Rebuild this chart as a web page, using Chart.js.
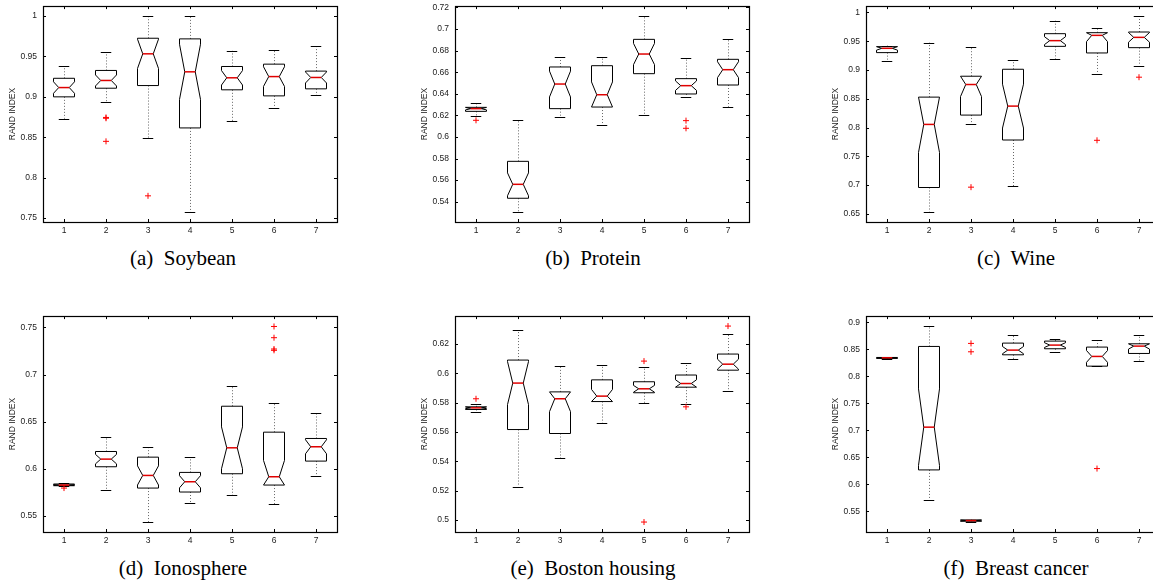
<!DOCTYPE html>
<html>
<head>
<meta charset="utf-8">
<script src="https://cdn.jsdelivr.net/npm/chart.js@4.4.1/dist/chart.umd.min.js"></script>
<style>
  html, body { margin: 0; padding: 0; background: #fff; }
  body { width: 1153px; height: 582px; position: relative; overflow: hidden; }
  canvas { position: absolute; }
  .cap {
    position: absolute; width: 300px; margin-left: -150px; text-align: center;
    font-family: "Liberation Serif", "DejaVu Serif", serif; font-size: 21px;
    line-height: 20px; white-space: pre; color: #000;
  }
</style>
</head>
<body>
<canvas id="c1" width="343" height="250"></canvas>
<canvas id="c2" width="343" height="250"></canvas>
<canvas id="c3" width="343" height="250"></canvas>
<canvas id="c4" width="343" height="250"></canvas>
<canvas id="c5" width="343" height="250"></canvas>
<canvas id="c6" width="343" height="250"></canvas>

<div class="cap" style="left:183px;top:248px">(a)  Soybean</div>
<div class="cap" style="left:593px;top:248px">(b)  Protein</div>
<div class="cap" style="left:1016px;top:248px">(c)  Wine</div>
<div class="cap" style="left:183px;top:558px">(d)  Ionosphere</div>
<div class="cap" style="left:593px;top:558px">(e)  Boston housing</div>
<div class="cap" style="left:1016px;top:558px">(f)  Breast cancer</div>

<script>
// methods on the x axis
const methods = [1, 2, 3, 4, 5, 6, 7];

// each box: [lower whisker, q1, median, q3, upper whisker]
const soybean = [
  [0.873, 0.900, 0.9115, 0.923, 0.9376],
  [0.8934, 0.9107, 0.9203, 0.9327, 0.955],
  [0.8496, 0.914, 0.9533, 0.9726, 1.0],
  [0.7574, 0.8615, 0.931, 0.9718, 1.0],
  [0.8703, 0.9087, 0.9236, 0.9376, 0.957],
  [0.8868, 0.9012, 0.9251, 0.9405, 0.9578],
  [0.902, 0.9099, 0.924, 0.9319, 0.9624]
];
const soybeanOut = [[2, 0.8745], [2, 0.8735], [2, 0.8449], [3, 0.7774]];

const protein = [
  [0.6194, 0.6237, 0.6262, 0.6274, 0.6317],
  [0.5302, 0.5432, 0.5561, 0.5774, 0.616],
  [0.6185, 0.6262, 0.649, 0.6648, 0.6737],
  [0.6108, 0.6277, 0.6391, 0.666, 0.6737],
  [0.6206, 0.6586, 0.6768, 0.6904, 0.712],
  [0.6373, 0.6398, 0.6475, 0.654, 0.6731],
  [0.628, 0.6481, 0.6623, 0.6719, 0.691]
];
const proteinOut = [[1, 0.6154], [6, 0.6151], [6, 0.608]];

const wine = [
  [0.9158, 0.9302, 0.9377, 0.9406, 0.9423],
  [0.6538, 0.6959, 0.8055, 0.8529, 0.9475],
  [0.8067, 0.8217, 0.8748, 0.8892, 0.94],
  [0.6982, 0.7784, 0.8373, 0.9013, 0.9169],
  [0.9192, 0.9411, 0.951, 0.9631, 0.9856],
  [0.8938, 0.9296, 0.9602, 0.9648, 0.9735],
  [0.9077, 0.9388, 0.9567, 0.966, 0.9937]
];
const wineOut = [[3, 0.6965], [6, 0.7779], [7, 0.8875]];

const ionosphere = [
  [0.5818, 0.5821, 0.5828, 0.5839, 0.5846],
  [0.5775, 0.6022, 0.6103, 0.6184, 0.6333],
  [0.5437, 0.5796, 0.593, 0.6124, 0.6234],
  [0.5641, 0.5754, 0.5863, 0.5962, 0.6124],
  [0.5719, 0.5948, 0.6223, 0.6664, 0.6879],
  [0.5627, 0.5828, 0.5916, 0.6389, 0.6703],
  [0.592, 0.6082, 0.6234, 0.6322, 0.6587]
];
const ionosphereOut = [[1, 0.5796], [6, 0.751], [6, 0.7391], [6, 0.7271], [6, 0.7257]];

const boston = [
  [0.5738, 0.5754, 0.5765, 0.5772, 0.5792],
  [0.5228, 0.5617, 0.5934, 0.6091, 0.6296],
  [0.5421, 0.559, 0.5827, 0.5874, 0.605],
  [0.5663, 0.5808, 0.5845, 0.5956, 0.6057],
  [0.5797, 0.5868, 0.5895, 0.5943, 0.6043],
  [0.5788, 0.5906, 0.5931, 0.5989, 0.607],
  [0.5877, 0.6022, 0.6063, 0.6132, 0.6266]
];
const bostonOut = [[1, 0.5827], [5, 0.6084], [5, 0.4986], [6, 0.5772], [7, 0.6323]];

const breast = [
  [0.8326, 0.8333, 0.8345, 0.8351, 0.8357],
  [0.5718, 0.6268, 0.706, 0.8555, 0.8932],
  [0.5311, 0.5317, 0.533, 0.5342, 0.5348],
  [0.8314, 0.84, 0.8487, 0.8617, 0.8759],
  [0.8456, 0.8512, 0.858, 0.8654, 0.8691],
  [0.819, 0.819, 0.837, 0.8543, 0.8679],
  [0.8283, 0.8425, 0.8561, 0.8604, 0.8759]
];
const breastOut = [[3, 0.8611], [3, 0.8456], [6, 0.6293]];

// y tick labels per panel
const soybeanTicks = [0.75, 0.8, 0.85, 0.9, 0.95, 1];
const proteinTicks = [0.54, 0.56, 0.58, 0.6, 0.62, 0.64, 0.66, 0.68, 0.7, 0.72];
const wineTicks = [0.65, 0.7, 0.75, 0.8, 0.85, 0.9, 0.95, 1];
const ionosphereTicks = [0.55, 0.6, 0.65, 0.7, 0.75];
const bostonTicks = [0.5, 0.52, 0.54, 0.56, 0.58, 0.6, 0.62];
const breastTicks = [0.55, 0.6, 0.65, 0.7, 0.75, 0.8, 0.85, 0.9];

const tickFont = { family: '"Liberation Sans", Arial, sans-serif', size: 8.5 };
const halfBox = 0.25, halfCap = 0.125, notchK = 0.31;
const plotW = 294, plotH = 216, xAxisH = 20;

function crisp(v) { return Math.round(v) + 0.5; }

// pixel frame of the axes range
function frame(chart) {
  const x = chart.scales.x, y = chart.scales.y;
  return {
    left: x.getPixelForValue(x.min), right: x.getPixelForValue(x.max),
    top: y.getPixelForValue(y.max), bottom: y.getPixelForValue(y.min)
  };
}

function boxPlugin(boxes) {
  return {
    id: 'boxes',
    beforeDatasetsDraw(chart) {
      const ctx = chart.ctx, x = chart.scales.x, y = chart.scales.y;
      ctx.save();
      boxes.forEach((b, i) => {
        const [lo, q1, med, q3, hi] = b;
        const c = methods[i];
        const xc = x.getPixelForValue(c);
        const xl = x.getPixelForValue(c - halfBox), xr = x.getPixelForValue(c + halfBox);
        const nl = x.getPixelForValue(c - halfBox / 2), nr = x.getPixelForValue(c + halfBox / 2);
        const cl = x.getPixelForValue(c - halfCap), cr = x.getPixelForValue(c + halfCap);
        const iqr = q3 - q1;
        // notch limits, kept inside the box
        const nlo = y.getPixelForValue(Math.max(q1, med - notchK * iqr));
        const nhi = y.getPixelForValue(Math.min(q3, med + notchK * iqr));
        const pq1 = y.getPixelForValue(q1), pq3 = y.getPixelForValue(q3);
        const pm = y.getPixelForValue(med);
        const plo = y.getPixelForValue(lo), phi = y.getPixelForValue(hi);

        // dotted whiskers
        ctx.strokeStyle = '#666';
        ctx.lineWidth = 1;
        ctx.setLineDash([1, 2]);
        ctx.beginPath();
        ctx.moveTo(crisp(xc), pq3); ctx.lineTo(crisp(xc), phi);
        ctx.moveTo(crisp(xc), pq1); ctx.lineTo(crisp(xc), plo);
        ctx.stroke();
        ctx.setLineDash([]);

        // caps
        ctx.strokeStyle = '#000';
        ctx.beginPath();
        ctx.moveTo(cl, crisp(phi)); ctx.lineTo(cr, crisp(phi));
        ctx.moveTo(cl, crisp(plo)); ctx.lineTo(cr, crisp(plo));
        ctx.stroke();

        // notched box
        ctx.beginPath();
        ctx.moveTo(xl, pq1);
        ctx.lineTo(xl, nlo);
        ctx.lineTo(nl, pm);
        ctx.lineTo(xl, nhi);
        ctx.lineTo(xl, pq3);
        ctx.lineTo(xr, pq3);
        ctx.lineTo(xr, nhi);
        ctx.lineTo(nr, pm);
        ctx.lineTo(xr, nlo);
        ctx.lineTo(xr, pq1);
        ctx.closePath();
        ctx.stroke();

        // median
        ctx.strokeStyle = '#e00000';
        ctx.lineWidth = 1.5;
        ctx.beginPath();
        ctx.moveTo(nl, pm); ctx.lineTo(nr, pm);
        ctx.stroke();
      });
      ctx.restore();
    },
    afterDraw(chart) {
      const ctx = chart.ctx, a = frame(chart);
      const x = chart.scales.x, y = chart.scales.y;
      ctx.save();
      ctx.strokeStyle = '#000';
      ctx.lineWidth = 1;
      ctx.beginPath();
      y.ticks.forEach(t => {
        const py = crisp(y.getPixelForValue(t.value));
        ctx.moveTo(a.left, py); ctx.lineTo(a.left + 3, py);
        ctx.moveTo(a.right, py); ctx.lineTo(a.right - 3, py);
      });
      x.ticks.forEach(t => {
        const px = crisp(x.getPixelForValue(t.value));
        ctx.moveTo(px, a.bottom); ctx.lineTo(px, a.bottom - 3);
        ctx.moveTo(px, a.top); ctx.lineTo(px, a.top + 3);
      });
      ctx.stroke();
      ctx.lineWidth = 1.2;
      ctx.strokeRect(crisp(a.left), crisp(a.top), Math.round(a.right - a.left), Math.round(a.bottom - a.top));
      ctx.restore();
    }
  };
}

function makePanel(id, boxes, outliers, ticks, yMin, yMax, plotLeft, plotTop) {
  const canvas = document.getElementById(id);
  const chart = new Chart(canvas, {
    type: 'scatter',
    data: {
      datasets: [{
        data: outliers.map(o => ({ x: o[0], y: o[1] })),
        pointStyle: 'cross',
        pointRadius: 3,
        borderColor: '#ff0000',
        borderWidth: 1
      }]
    },
    options: {
      responsive: false,
      maintainAspectRatio: false,
      animation: false,
      layout: { padding: { top: 0, right: 6, left: 0, bottom: 0 } },
      plugins: { legend: { display: false }, tooltip: { enabled: false } },
      scales: {
        x: {
          type: 'linear', min: 0.5, max: 7.5,
          afterBuildTicks: s => { s.ticks = methods.map(v => ({ value: v })); },
          afterFit: s => { s.height = xAxisH; },
          grid: { display: false, drawTicks: false }, border: { display: false },
          ticks: { font: tickFont, color: '#222', padding: 4, callback: v => String(v) }
        },
        y: {
          type: 'linear', min: yMin, max: yMax,
          afterBuildTicks: s => { s.ticks = ticks.map(v => ({ value: v })); },
          afterFit: s => { s.width = 43; },
          grid: { display: false, drawTicks: false }, border: { display: false },
          ticks: { font: tickFont, color: '#222', padding: 6, callback: v => String(+v.toFixed(2)) },
          title: { display: true, text: 'RAND INDEX', font: tickFont, color: '#222', padding: { top: 8, bottom: 0 } }
        }
      }
    },
    plugins: [boxPlugin(boxes)]
  });
  // resize until the axes frame is plotW x plotH, then move it to (plotLeft, plotTop)
  for (let k = 0; k < 3; k++) {
    const f = frame(chart);
    const dw = plotW - (f.right - f.left), dh = plotH - (f.bottom - f.top);
    if (Math.abs(dw) < 0.5 && Math.abs(dh) < 0.5) break;
    chart.resize(Math.round(chart.width + dw), Math.round(chart.height + dh));
  }
  const f = frame(chart);
  canvas.style.left = Math.round(plotLeft - f.left) + 'px';
  canvas.style.top = Math.round(plotTop - f.top) + 'px';
  return chart;
}

makePanel('c1', soybean, soybeanOut, soybeanTicks, 0.745, 1.0124, 43, 6);
makePanel('c2', protein, proteinOut, proteinTicks, 0.5212, 0.7212, 455, 6);
makePanel('c3', wine, wineOut, wineTicks, 0.636, 1.011, 866, 6);
makePanel('c4', ionosphere, ionosphereOut, ionosphereTicks, 0.533, 0.762, 43, 316);
makePanel('c5', boston, bostonOut, bostonTicks, 0.4918, 0.6391, 455, 316);
makePanel('c6', breast, breastOut, breastTicks, 0.5118, 0.9117, 866, 316);
</script>
</body>
</html>
